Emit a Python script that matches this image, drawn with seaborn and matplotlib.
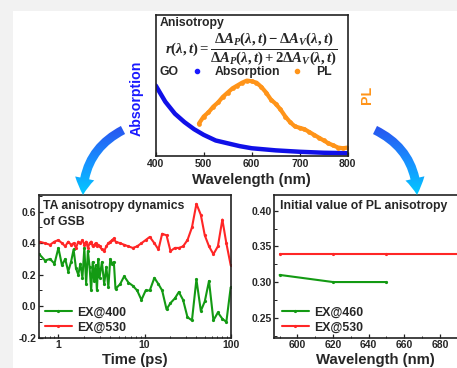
import numpy as np
import pandas as pd
import matplotlib
matplotlib.use('Agg')
import matplotlib.pyplot as plt
import seaborn as sns
from matplotlib.patches import FancyArrowPatch, Rectangle
from matplotlib.colors import LinearSegmentedColormap
from matplotlib.lines import Line2D
from matplotlib.ticker import MultipleLocator, LogLocator, NullFormatter, FixedLocator, FixedFormatter

# ---------------- data ----------------
abs_wl = [400, 420, 440, 460, 480, 500, 525, 550, 575, 600, 650, 700, 750, 800]
abs_val = [0.50, 0.385, 0.30, 0.24, 0.19, 0.15, 0.11, 0.09, 0.07, 0.055, 0.04, 0.03, 0.023, 0.02]

pl_wl = [490, 500, 510, 520, 530, 540, 550, 560, 570, 580, 590, 600, 610, 620, 630, 640,
         650, 660, 670, 680, 690, 700, 710, 720, 730, 740, 750, 760, 770, 780, 790, 800]
pl_val = [0.23, 0.28, 0.31, 0.35, 0.38, 0.42, 0.45, 0.48, 0.50, 0.52, 0.535, 0.53, 0.52, 0.49, 0.45, 0.40,
          0.37, 0.33, 0.28, 0.24, 0.21, 0.20, 0.19, 0.17, 0.15, 0.13, 0.11, 0.09, 0.075, 0.06, 0.055, 0.06]

ta_time = [0.6, 0.7, 0.8, 0.9, 1.0, 1.1, 1.2, 1.3, 1.4, 1.5, 1.6, 1.7, 1.8, 1.9, 2.0, 2.1, 2.2,
           2.3, 2.4, 2.5, 2.6, 2.7, 2.8, 2.9, 3.0, 3.2, 3.4, 3.6, 3.8, 4.0, 4.2, 4.4, 4.6,
           5.2, 5.8, 6.5, 7.3, 8.2, 9.2, 10.3, 11.5, 13, 14.5, 16, 18, 20, 22.5, 25, 28,
           31.5, 35.5, 40, 45, 50, 56, 63, 71, 80, 89, 100]
ta_ex400 = [0.33, 0.29, 0.30, 0.27, 0.37, 0.26, 0.30, 0.22, 0.28, 0.36, 0.24, 0.20, 0.27, 0.18, 0.37, 0.14, 0.35,
            0.25, 0.10, 0.28, 0.16, 0.26, 0.10, 0.30, 0.18, 0.28, 0.14, 0.25, 0.12, 0.30, 0.27, 0.28, 0.11,
            0.14, 0.19, 0.15, 0.13, 0.10, 0.04, 0.10, 0.10, 0.18, 0.14, 0.10, -0.02, 0.02, 0.05, 0.09, 0.04,
            -0.07, -0.09, 0.17, -0.03, 0.03, 0.16, -0.09, -0.04, -0.08, -0.10, 0.12]
ta_ex530 = [0.41, 0.40, 0.39, 0.41, 0.42, 0.40, 0.38, 0.41, 0.39, 0.40, 0.37, 0.41, 0.40, 0.42, 0.39, 0.41, 0.37,
            0.40, 0.41, 0.38, 0.39, 0.40, 0.38, 0.39, 0.38, 0.36, 0.35, 0.38, 0.40, 0.41, 0.42, 0.43, 0.41,
            0.40, 0.39, 0.38, 0.37, 0.38, 0.40, 0.42, 0.44, 0.40, 0.36, 0.46, 0.45, 0.35, 0.37, 0.37, 0.38,
            0.42, 0.50, 0.65, 0.58, 0.45, 0.38, 0.33, 0.38, 0.55, 0.40, 0.26]

pl_em_wl_460 = [590, 620, 650]
pl_init_460 = [0.31, 0.30, 0.30]
pl_em_wl_530 = [590, 620, 650, 690]
pl_init_530 = [0.34, 0.34, 0.34, 0.34]

# ---------------- style ----------------
sns.set_theme(style='ticks')
plt.rcParams['font.family'] = ['Liberation Sans', 'DejaVu Sans']
plt.rcParams['font.weight'] = 'bold'
plt.rcParams['axes.labelweight'] = 'bold'
plt.rcParams['mathtext.fontset'] = 'custom'
plt.rcParams['mathtext.it'] = 'Liberation Serif:italic:bold'
plt.rcParams['mathtext.rm'] = 'Liberation Serif:bold'
plt.rcParams['mathtext.bf'] = 'Liberation Serif:bold'

W, H = 457, 368
fig = plt.figure(figsize=(W / 100, H / 100), dpi=100)
fig.patch.set_facecolor('white')

GREEN = '#139a13'
RED = '#ff2626'
BLUE = '#1010e8'
ORANGE = '#ff9419'
SPINE = '#222222'
TICKFS = 7.5
LABFS = 10.7
TXTFS = 8.8

# gray page strips
fig.add_artist(Rectangle((0, 1 - 11 / H), 1, 11 / H, transform=fig.transFigure,
                         color='#f2f2f2', zorder=-10, lw=0))
fig.add_artist(Rectangle((0, 0), 13 / W, 1, transform=fig.transFigure,
                         color='#f2f2f2', zorder=-10, lw=0))


def style_axes(ax):
    for s in ax.spines.values():
        s.set_visible(True)
        s.set_color(SPINE)
        s.set_linewidth(1.2)
    ax.tick_params(which='both', direction='in', color=SPINE, labelsize=TICKFS, pad=2)
    ax.tick_params(which='major', length=3, width=0.9)
    ax.tick_params(which='minor', length=1.8, width=0.7)
    for lab in ax.get_xticklabels() + ax.get_yticklabels():
        lab.set_fontweight('bold')


def px_axes(l, t, r, b):
    return fig.add_axes([l / W, 1 - b / H, (r - l) / W, (b - t) / H])


# ---------------- top panel ----------------
axt = px_axes(155.7, 15, 347.7, 156)
df_abs = pd.DataFrame({'wl': abs_wl, 'val': abs_val})
df_pl = pd.DataFrame({'wl': pl_wl, 'val': pl_val})
sns.lineplot(data=df_abs, x='wl', y='val', ax=axt, color=BLUE, lw=3.2, solid_capstyle='round')
sns.lineplot(data=df_pl, x='wl', y='val', ax=axt, color=ORANGE, lw=3.0, marker='o', ms=3.4,
             mec=ORANGE, mew=0)
axt.set_xlim(400, 800)
axt.set_ylim(0, 1)
axt.set_xticks([400, 500, 600, 700, 800])
axt.set_yticks([])
axt.set_xlabel('Wavelength (nm)', fontsize=LABFS, labelpad=3)
axt.set_ylabel('Absorption', fontsize=10.2, color='#1a1aff')
axt.yaxis.set_label_coords(-0.061, 0.41)
axt.text(1.10, 0.43, 'PL', transform=axt.transAxes, rotation=90, ha='center', va='center',
         fontsize=10.2, color=ORANGE, fontweight='bold')
style_axes(axt)
axt.text(0.022, 0.985, 'Anisotropy', transform=axt.transAxes, ha='left', va='top',
         fontsize=TXTFS, fontweight='bold')
formula = (r'$r(\lambda,t)=\dfrac{\Delta A_P(\lambda,t)-\Delta A_V(\lambda,t)}'
           r'{\Delta A_P(\lambda,t)+2\Delta A_V(\lambda,t)}$')
axt.text(0.5, 0.762, formula, transform=axt.transAxes, ha='center', va='center', fontsize=10.6)
axt.text(0.022, 0.596, 'GO', transform=axt.transAxes, ha='left', va='center',
         fontsize=TXTFS, fontweight='bold')
hdl = [Line2D([], [], ls='none', marker='o', ms=3, color='#1a1aff'),
       Line2D([], [], ls='none', marker='o', ms=3, color=ORANGE)]
axt.legend(hdl, ['Absorption', 'PL'], ncol=2, loc='center left', bbox_to_anchor=(0.182, 0.596),
           frameon=False, borderpad=0, borderaxespad=0, handlelength=1.0, handletextpad=1.0,
           columnspacing=0.87, prop={'size': TXTFS, 'weight': 'bold'})

# ---------------- bottom left ----------------
axl = px_axes(39.3, 195, 230.7, 337.7)
df_ta = pd.DataFrame({'t': ta_time * 2, 'r': ta_ex400 + ta_ex530,
                      'ex': ['EX@400'] * len(ta_time) + ['EX@530'] * len(ta_time)})
sns.lineplot(data=df_ta, x='t', y='r', hue='ex', palette={'EX@400': GREEN, 'EX@530': RED},
             ax=axl, lw=1.5, marker='o', ms=2.3, mew=0, estimator=None, sort=False)
axl.set_xscale('log')
axl.set_xlim(0.6, 100)
axl.set_ylim(-0.2, 0.706)
axl.xaxis.set_major_locator(FixedLocator([1, 10, 100]))
axl.xaxis.set_major_formatter(FixedFormatter(['1', '10', '100']))
axl.xaxis.set_minor_locator(LogLocator(base=10, subs=np.arange(2, 10)))
axl.xaxis.set_minor_formatter(NullFormatter())
axl.set_yticks([-0.2, 0.0, 0.2, 0.4, 0.6])
axl.set_yticklabels(['-0.2', '0.0', '0.2', '0.4', '0.6'])
axl.yaxis.set_minor_locator(MultipleLocator(0.1))
axl.set_xlabel('Time (ps)', fontsize=LABFS, labelpad=2)
axl.set_ylabel('')
style_axes(axl)
axl.text(0.021, 0.965, 'TA anisotropy dynamics\nof GSB', transform=axl.transAxes, ha='left',
         va='top', fontsize=TXTFS, fontweight='bold', linespacing=1.4)
axl.legend(loc='lower left', bbox_to_anchor=(0.03, 0.03), frameon=False, borderpad=0,
           borderaxespad=0, handlelength=2.2, handletextpad=0.45, labelspacing=0.22,
           prop={'size': TXTFS, 'weight': 'bold'}, title=None)

# ---------------- bottom right ----------------
axr = px_axes(274.3, 195, 475.5, 337.7)
df_pi = pd.DataFrame({'wl': pl_em_wl_460 + pl_em_wl_530, 'r': pl_init_460 + pl_init_530,
                      'ex': ['EX@460'] * len(pl_em_wl_460) + ['EX@530'] * len(pl_em_wl_530)})
sns.lineplot(data=df_pi, x='wl', y='r', hue='ex', palette={'EX@460': GREEN, 'EX@530': RED},
             ax=axr, lw=1.5, marker='o', ms=2.3, mew=0, estimator=None)
axr.set_xlim(587, 700)
axr.set_ylim(0.222, 0.422)
axr.set_xticks([600, 620, 640, 660, 680])
axr.xaxis.set_minor_locator(MultipleLocator(10))
axr.set_yticks([0.25, 0.30, 0.35, 0.40])
axr.set_yticklabels(['0.25', '0.30', '0.35', '0.40'])
axr.yaxis.set_minor_locator(MultipleLocator(0.025))
axr.set_xlabel('Wavelength (nm)', fontsize=LABFS, labelpad=2)
axr.set_ylabel('')
style_axes(axr)
axr.text(0.028, 0.965, 'Initial value of PL anisotropy', transform=axr.transAxes, ha='left',
         va='top', fontsize=TXTFS, fontweight='bold')
axr.legend(loc='lower left', bbox_to_anchor=(0.037, 0.03), frameon=False, borderpad=0,
           borderaxespad=0, handlelength=2.2, handletextpad=0.45, labelspacing=0.22,
           prop={'size': TXTFS, 'weight': 'bold'}, title=None)

# ---------------- gradient arrows ----------------
ov = fig.add_axes([0, 0, 1, 1], zorder=5)
ov.patch.set_alpha(0)
ov.axis('off')
cmap_arrow = LinearSegmentedColormap.from_list('arr', ['#2a50ee', '#1890ff', '#00d0ff'])
grad = np.linspace(0, 1, 120).reshape(-1, 1)


def grad_arrow(p0, p1, rad):
    arr = FancyArrowPatch(p0, p1, connectionstyle=f'arc3,rad={rad}',
                          arrowstyle='simple,head_width=14,head_length=12,tail_width=6.5',
                          mutation_scale=1, shrinkA=0, shrinkB=0, fc='none', ec='none', lw=0)
    ov.add_patch(arr)
    x0, x1 = sorted([p0[0], p1[0]])
    y0, y1 = sorted([p0[1], p1[1]])
    im = ov.imshow(grad, extent=[x0 - 25, x1 + 25, y1 + 4, y0 - 6], cmap=cmap_arrow,
                   aspect='auto', interpolation='bilinear', origin='upper', zorder=2)
    im.set_clip_path(arr)


grad_arrow((123, 130), (83, 195), 0.3)
grad_arrow((375, 130), (417, 195), -0.3)
ov.set_xlim(0, W)
ov.set_ylim(H, 0)

fig.savefig('out.png', dpi=100, facecolor='white')
